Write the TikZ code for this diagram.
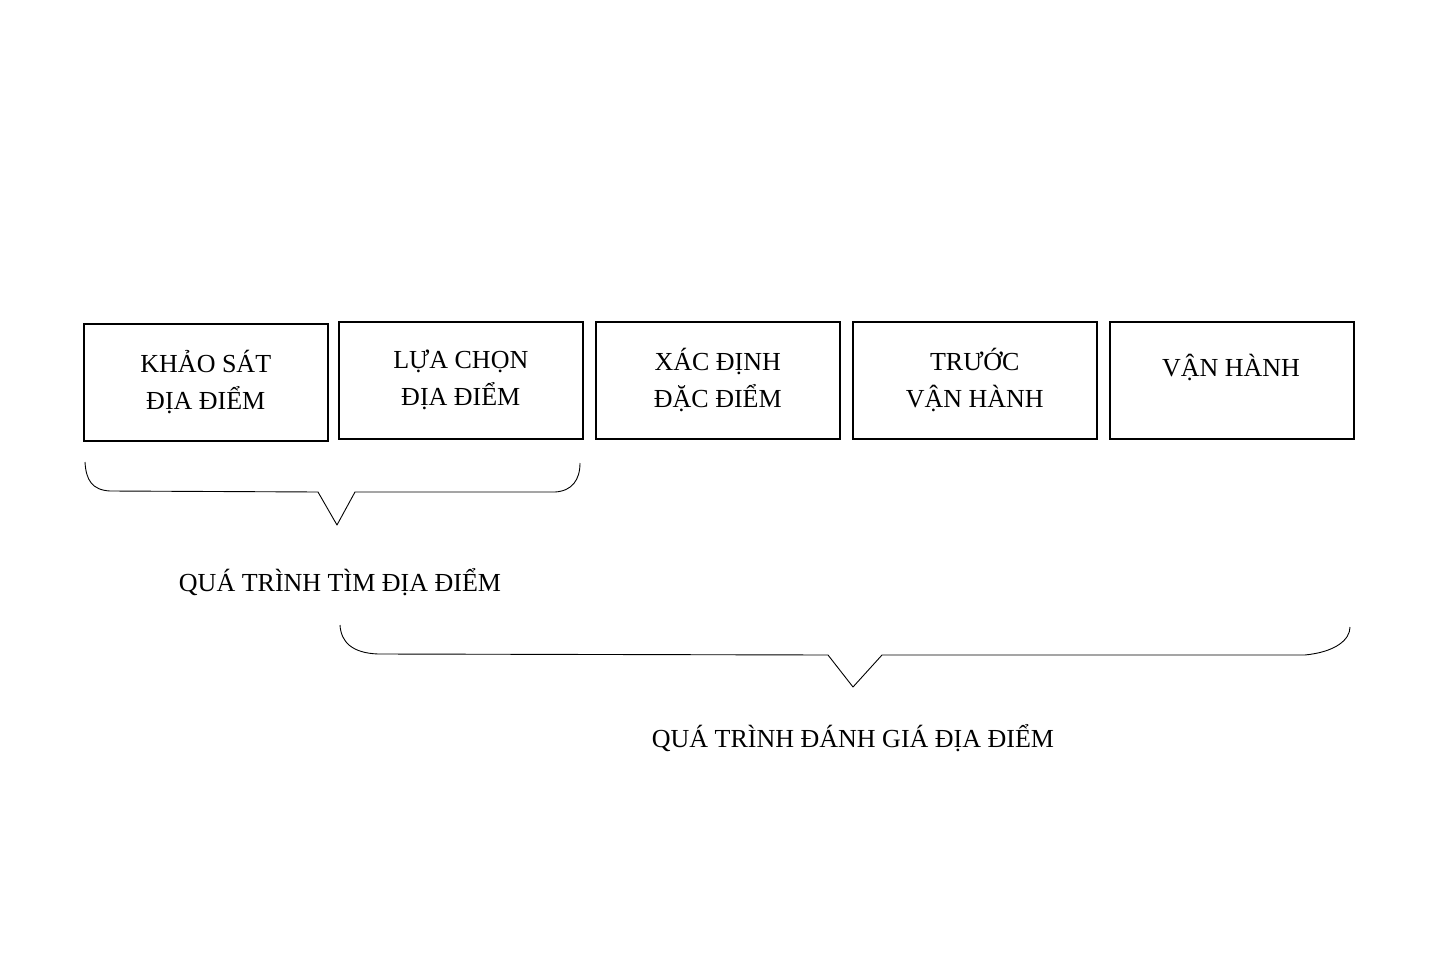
\documentclass[tikz,border=0pt]{standalone}
\usepackage{fontspec}
\setmainfont{Liberation Serif}
\begin{document}
\begin{tikzpicture}[x=1pt,y=-1pt,
  stage/.style={draw,line width=1.6pt,minimum width=244pt,minimum height=117pt,anchor=north west,inner sep=0pt,font=\fontsize{26}{37}\selectfont,align=center},
  brace/.style={line width=0.9pt,line join=round},
  lbl/.style={font=\fontsize{26}{32}\selectfont}]
\useasboundingbox (0,0) rectangle (1438,963);
\node[stage] (b1) at (83,323) {KHẢO SÁT\\ĐỊA ĐIỂM};
\node[stage] (b2) at (338,321) {LỰA CHỌN\\ĐỊA ĐIỂM};
\node[stage] (b3) at (595,321) {XÁC ĐỊNH\\ĐẶC ĐIỂM};
\node[stage] (b4) at (852,321) {TRƯỚC\\VẬN HÀNH};
\node[stage,text height=0pt] (b5) at (1109,321) {};
\node[lbl,anchor=base] (t5) at (1231,376) {VẬN HÀNH};
\draw[brace] (85,462) .. controls (86,480) and (92,490) .. (110,491) -- (318,492) -- (337,525) -- (355,492) -- (555,492) .. controls (572,491) and (580,480) .. (580,463);
\node[lbl] (l1) at (340,582) {QUÁ TRÌNH TÌM ĐỊA ĐIỂM};
\draw[brace] (340,625) .. controls (341,642) and (352,653) .. (378,654) -- (828,655) -- (853,687) -- (882,655) -- (1305,655) .. controls (1335,652) and (1350,640) .. (1350,627);
\node[lbl] (l2) at (853,738) {QUÁ TRÌNH ĐÁNH GIÁ ĐỊA ĐIỂM};
\end{tikzpicture}
\end{document}
